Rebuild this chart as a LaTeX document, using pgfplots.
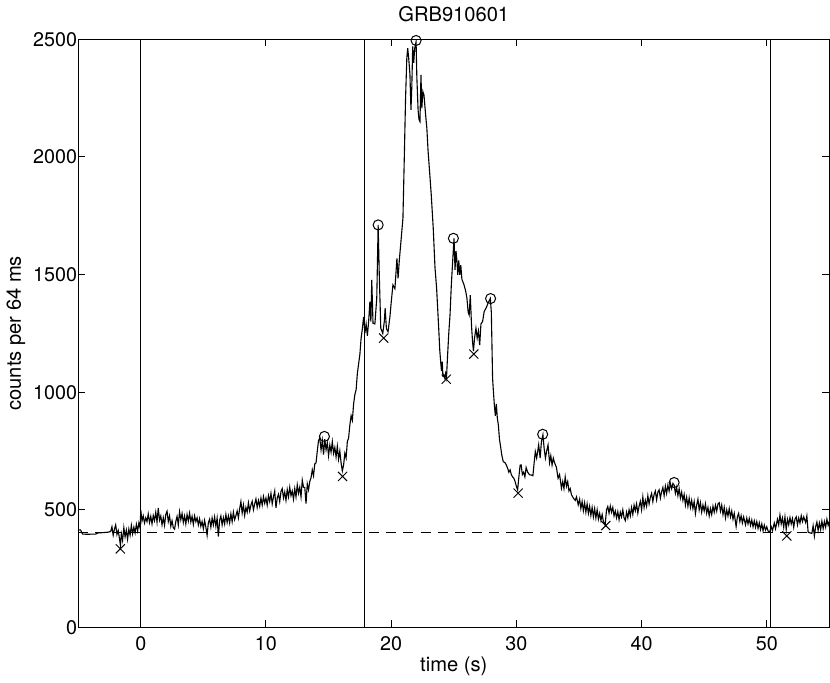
\documentclass[border=0pt]{standalone}
\usepackage{pgfplots}
\pgfplotsset{compat=1.18}
\usepackage{fontspec}
\setmainfont{TeX Gyre Heros}
\begin{document}
\begin{tikzpicture}
\begin{axis}[
    scale only axis,
    width=373pt, height=292pt,
    xmin=-5, xmax=55, ymin=0, ymax=2500,
    xtick={0,10,20,30,40,50},
    ytick={0,500,1000,1500,2000,2500},
    tick align=inside, tick pos=both,
    major tick length=3.5pt,
    axis line style={line width=0.6pt},
    every tick/.style={black, line width=0.5pt},
    /pgf/number format/assume math mode=true,
    /pgf/number format/1000 sep={},
    scaled ticks=false,
    ticklabel style={font=\fontsize{9.8}{12}\selectfont},
    yticklabel style={xshift=3pt},
    xticklabel style={yshift=-1pt},
    label style={font=\fontsize{10}{12}\selectfont},
    title style={font=\fontsize{10}{12}\selectfont, yshift=-1pt},
    title={GRB910601},
    xlabel={time (s)},
    ylabel={counts per 64 ms},
    xlabel style={yshift=4pt},
    ylabel style={yshift=-3pt},
    clip=true,
]
% light curve
\addplot[black, line width=0.55pt, mark=none] coordinates {
(-5,415) (-4.8,414) (-4.65,397) (-4.3,396) (-3.6,397) (-3.4,402) (-3.0,403) (-2.6,405) (-2.4,408)
(-2.3,428) (-2.2,392) (-2.1,418) (-2.0,436) (-1.9,395) (-1.8,412) (-1.7,378) (-1.62,348) (-1.55,398) (-1.45,370)
(-1.35,424) (-1.25,385) (-1.15,414) (-1.05,375) (-0.95,418) (-0.85,392) (-0.75,434) (-0.65,398) (-0.55,426)
(-0.45,402) (-0.35,438) (-0.25,410) (-0.15,444) (-0.05,422) (0.0,500)
(0.1,452) (0.2,474) (0.3,444) (0.4,466) (0.5,450) (0.6,482) (0.7,446) (0.8,472) (0.9,440) (1.0,476)
(1.1,454) (1.2,490) (1.3,448) (1.4,508) (1.5,456) (1.6,474) (1.7,436) (1.8,466) (1.9,434) (2.0,480)
(2.1,494) (2.2,450) (2.3,474) (2.4,430) (2.5,454) (2.6,424) (2.7,418) (2.8,450) (2.9,472) (3.0,436)
(3.1,492) (3.2,458) (3.3,484) (3.4,446) (3.5,474) (3.6,440) (3.7,480) (3.8,452) (3.9,486) (4.0,448)
(4.1,472) (4.2,438) (4.3,474) (4.4,450) (4.5,466) (4.6,436) (4.7,462) (4.8,430) (4.9,450)
(5.0,420) (5.1,455) (5.2,426) (5.3,392) (5.4,445) (5.5,460) (5.6,426) (5.7,465) (5.8,436) (5.9,470)
(6.0,430) (6.1,465) (6.2,386) (6.3,455) (6.4,474) (6.5,436) (6.6,467) (6.7,440) (6.8,480) (6.9,446) (7.0,474)
(7.1,444) (7.2,483) (7.3,450) (7.4,490) (7.5,458) (7.6,475) (7.7,495) (7.8,466) (7.9,505) (8.0,535)
(8.1,486) (8.2,520) (8.3,476) (8.4,510) (8.5,490) (8.6,530) (8.7,495) (8.8,520) (8.9,536) (9.0,500)
(9.1,525) (9.2,546) (9.3,510) (9.4,540) (9.5,515) (9.6,550) (9.7,520) (9.8,556) (9.9,528) (10.0,550)
(10.1,520) (10.2,560) (10.3,535) (10.4,570) (10.5,525) (10.6,555) (10.7,580) (10.8,508) (10.9,550) (11.0,566)
(11.1,535) (11.2,578) (11.3,590) (11.4,550) (11.5,575) (11.6,540) (11.7,586) (11.8,555) (11.9,596) (12.0,560)
(12.1,580) (12.2,545) (12.3,590) (12.4,555) (12.5,606) (12.6,570) (12.7,596) (12.8,555) (12.9,626) (13.0,596)
(13.1,595) (13.2,526) (13.3,610) (13.4,585) (13.5,620)
(13.6,636) (13.7,670) (13.8,645) (13.9,695) (14.0,700) (14.1,750) (14.2,795) (14.3,805) (14.4,755) (14.5,795)
(14.6,735) (14.7,800) (14.8,755) (14.9,785) (15.0,730) (15.1,775) (15.2,745) (15.3,790) (15.4,740) (15.5,765)
(15.6,725) (15.7,770) (15.8,715) (15.9,750) (16.0,700) (16.1,665) (16.2,690)
(16.3,740) (16.4,720) (16.5,790) (16.6,805) (16.7,860) (16.8,900) (16.9,880) (17.0,950) (17.1,990) (17.2,1010)
(17.3,1080) (17.4,1120) (17.5,1160) (17.6,1230) (17.7,1270) (17.8,1320) (17.85,1290) (17.9,1250) (18.0,1290)
(18.1,1240) (18.2,1300) (18.3,1385) (18.38,1300) (18.45,1477) (18.55,1293) (18.7,1290) (18.85,1400) (18.96,1711)
(19.05,1500) (19.17,1272) (19.33,1250) (19.45,1300) (19.52,1357) (19.62,1270) (19.75,1257) (19.9,1320) (20.0,1380)
(20.14,1456) (20.3,1440) (20.46,1569) (20.55,1484) (20.65,1560) (20.78,1640) (20.94,1740) (21.05,2000) (21.15,2250)
(21.25,2420) (21.32,2462) (21.4,2420) (21.5,2350) (21.58,2200) (21.65,2300) (21.72,2470) (21.8,2400) (21.88,2462)
(21.99,2490) (22.05,2340) (22.15,2200) (22.22,2160) (22.3,2150) (22.38,2349) (22.45,2207) (22.53,2278) (22.62,2263)
(22.75,2180) (22.85,2122) (22.95,2023) (23.05,1952) (23.2,1840) (23.36,1697)
(23.5,1530) (23.63,1442) (23.72,1350) (23.81,1258) (23.88,1180) (23.95,1131) (24.02,1090) (24.08,1130) (24.13,1070)
(24.2,1074) (24.28,1060) (24.35,1080) (24.42,1062) (24.5,1150) (24.6,1250) (24.7,1328) (24.8,1450) (24.88,1527)
(25.02,1654) (25.1,1520) (25.18,1600) (25.25,1560) (25.32,1499) (25.4,1560) (25.48,1499) (25.56,1540) (25.65,1480)
(25.82,1456) (25.95,1430) (26.05,1400) (26.15,1340) (26.23,1328) (26.32,1413) (26.42,1280) (26.5,1215) (26.57,1175)
(26.66,1230) (26.77,1272) (26.87,1230) (26.97,1260) (27.07,1200) (27.17,1290) (27.3,1300) (27.43,1343) (27.6,1360)
(27.75,1380) (27.92,1398) (28.0,1340) (28.05,1200) (28.1,1060) (28.17,1000) (28.24,946) (28.32,900) (28.4,950)
(28.48,889) (28.56,861) (28.65,800) (28.72,776) (28.83,734) (28.95,705) (29.1,700) (29.2,690) (29.3,677) (29.4,660)
(29.5,670) (29.6,649) (29.7,640) (29.8,634) (29.9,620) (30.0,600) (30.1,585) (30.2,640) (30.3,690) (30.38,691)
(30.48,650) (30.58,660) (30.68,640) (30.78,680) (30.9,660) (31.05,649) (31.2,648) (31.32,645) (31.42,700) (31.51,748)
(31.62,720) (31.78,776) (31.9,720) (32.0,790) (32.12,819) (32.22,760) (32.32,720) (32.42,750) (32.53,776) (32.65,700)
(32.75,730) (32.85,690) (32.95,720) (33.05,700) (33.2,680) (33.33,634) (33.45,650) (33.6,592) (33.7,620) (33.8,590)
(33.9,640) (34.0,600) (34.1,620) (34.2,580) (34.3,590) (34.4,564) (34.55,550) (34.7,540) (34.8,555) (34.94,521)
(35.05,545) (35.15,505) (35.25,535) (35.35,496) (35.45,530) (35.55,490) (35.65,525) (35.75,485) (35.85,515) (35.95,476)
(36.05,510) (36.15,470) (36.25,505) (36.35,465) (36.45,500) (36.55,460) (36.65,485) (36.75,455) (36.85,480) (36.95,450)
(37.09,436) (37.2,500) (37.3,514)
(37.4,486) (37.5,516) (37.6,490) (37.7,510) (37.8,474) (37.9,495) (38.0,466) (38.1,492) (38.2,458) (38.3,490)
(38.4,470) (38.5,500) (38.6,466) (38.7,454) (38.8,490) (38.9,466) (39.0,500) (39.1,474) (39.2,510) (39.3,480)
(39.4,520) (39.5,496) (39.6,525) (39.7,486) (39.8,515) (39.9,536) (40.0,500) (40.1,555) (40.2,510) (40.3,540)
(40.4,515) (40.5,560) (40.6,525) (40.7,553) (40.8,570) (40.9,535) (41.0,565) (41.1,580) (41.2,543) (41.3,575)
(41.4,585) (41.5,550) (41.6,577) (41.7,595) (41.8,560) (41.9,600) (42.0,570) (42.1,605) (42.2,580) (42.3,612)
(42.4,590) (42.5,612) (42.6,605) (42.7,570) (42.8,595) (42.9,560) (43.0,590) (43.1,550) (43.2,575) (43.3,540)
(43.4,565) (43.5,520) (43.6,553) (43.7,515) (43.8,550) (43.9,510) (44.0,540) (44.1,505) (44.2,535) (44.3,484)
(44.4,520) (44.5,545) (44.6,500) (44.7,530) (44.8,490) (44.9,520) (45.0,495) (45.1,525) (45.2,485) (45.3,510)
(45.4,474) (45.5,505) (45.6,480) (45.7,515) (45.8,490) (45.9,520) (46.0,495) (46.1,525) (46.2,530) (46.3,494)
(46.4,520) (46.5,480) (46.6,510) (46.7,466) (46.8,500) (46.9,474) (47.0,505) (47.1,470) (47.2,495) (47.3,460)
(47.4,485) (47.55,429) (47.65,470) (47.75,485) (47.85,450) (47.95,475) (48.05,444) (48.15,470) (48.3,436) (48.4,465)
(48.5,440) (48.6,463) (48.7,434) (48.8,457) (48.9,428) (49.0,453) (49.1,426) (49.2,450) (49.3,421) (49.4,445)
(49.5,416) (49.6,440) (49.7,411) (49.8,435) (49.9,414) (50.0,428) (50.1,410) (50.23,405) (50.35,428) (50.45,412)
(50.6,444) (50.7,420) (50.85,460) (50.95,436) (51.05,478) (51.15,440) (51.25,465) (51.35,426) (51.45,470) (51.55,416)
(51.65,460) (51.75,436) (51.85,467) (51.95,440) (52.05,463) (52.15,426) (52.25,460) (52.35,470) (52.45,436) (52.55,465)
(52.65,444) (52.75,475) (52.85,450) (52.95,470) (53.1,446) (53.2,474) (53.3,405) (53.45,402) (53.6,400) (53.7,432)
(53.8,388) (53.9,428) (54.0,448) (54.1,412) (54.2,444) (54.3,416) (54.4,452) (54.5,420) (54.6,450) (54.7,426)
(54.8,460) (54.9,434) (55.0,452)
};
% background level
\addplot[black, line width=0.5pt, dash pattern=on 5pt off 3.5pt] coordinates {(-5,404) (55,404)};
% interval boundaries
\addplot[black, line width=0.55pt] coordinates {(0,0) (0,2500)};
\addplot[black, line width=0.55pt] coordinates {(17.86,0) (17.86,2500)};
\addplot[black, line width=0.55pt] coordinates {(50.28,0) (50.28,2500)};
% peaks
\addplot[only marks, mark=o, mark size=2.5pt, black, line width=0.5pt] coordinates {
(14.67,812) (18.96,1711) (21.99,2495) (24.97,1654) (27.94,1398) (32.1,821) (42.6,616)
};
% minima
\addplot[only marks, mark=x, mark size=3.2pt, black, line width=0.5pt] coordinates {
(-1.63,334) (16.12,642) (19.4,1230) (24.4,1055) (26.6,1162) (30.14,571) (37.14,433) (51.6,389)
};
\end{axis}
\end{tikzpicture}
\end{document}
